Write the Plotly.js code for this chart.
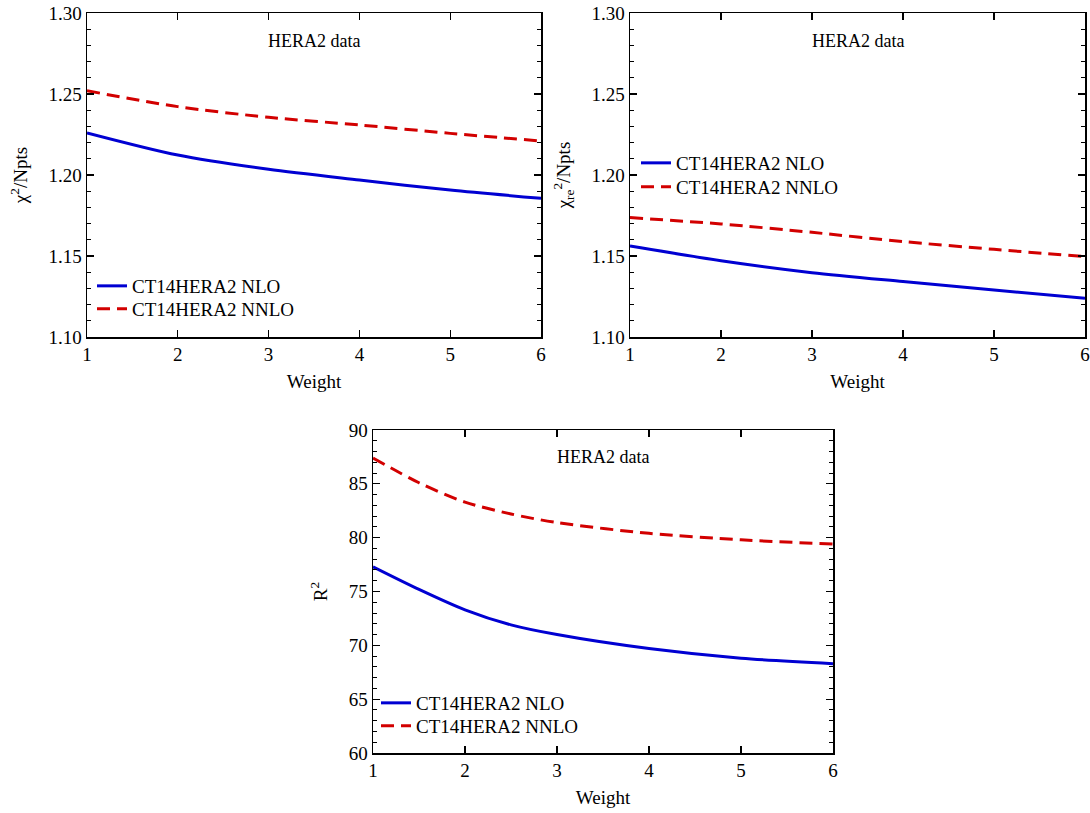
<!DOCTYPE html>
<html>
<head>
<meta charset="utf-8">
<script src="https://cdn.plot.ly/plotly-3.0.1.min.js"></script>
<style>html,body{margin:0;padding:0;background:#fff;}#chart{width:1090px;height:813px;}</style>
</head>
<body>
<div id="chart"></div>
<script>
// Weights
const weights = [1, 2, 3, 4, 5, 6];
const weightsFine = [1, 1.5, 2, 2.5, 3, 4, 5, 6];

// Panel 1: chi^2/Npts
const chi2NLO  = [1.226, 1.2123, 1.2035, 1.1969, 1.1907, 1.1856];
const chi2NNLO = [1.252, 1.2422, 1.2356, 1.2309, 1.2257, 1.2210];

// Panel 2: chi^2_re/Npts
const chi2reNLO  = [1.1562, 1.1471, 1.1397, 1.1342, 1.1290, 1.1239];
const chi2reNNLO = [1.1737, 1.1698, 1.1646, 1.1589, 1.1541, 1.1496];

// Panel 3: R^2
const r2NLO  = [77.3, 75.2, 73.3, 71.9, 71.0, 69.7, 68.8, 68.3];
const r2NNLO = [87.4, 85.1, 83.3, 82.2, 81.4, 80.4, 79.8, 79.4];

const nameNLO = 'CT14HERA2 NLO';
const nameNNLO = 'CT14HERA2 NNLO';
const blue = 'rgb(0,0,210)';
const red = 'rgb(210,0,0)';
const FONT = '"Liberation Serif", "Times New Roman", Times, serif';

function lineNLO(x, y, xa, ya, lg) {
  return {x: x, y: y, xaxis: xa, yaxis: ya, type: 'scatter', mode: 'lines', name: nameNLO,
    legend: lg, line: {color: blue, width: 3, shape: 'spline', smoothing: 0.8}};
}
function lineNNLO(x, y, xa, ya, lg) {
  return {x: x, y: y, xaxis: xa, yaxis: ya, type: 'scatter', mode: 'lines', name: nameNNLO,
    legend: lg, line: {color: red, width: 3, dash: '13px,7px', shape: 'spline', smoothing: 0.8}};
}

const data = [
  lineNLO(weights, chi2NLO, 'x', 'y', 'legend'),
  lineNNLO(weights, chi2NNLO, 'x', 'y', 'legend2'),
  lineNLO(weights, chi2reNLO, 'x2', 'y2', 'legend3'),
  lineNNLO(weights, chi2reNNLO, 'x2', 'y2', 'legend4'),
  lineNLO(weightsFine, r2NLO, 'x3', 'y3', 'legend5'),
  lineNNLO(weightsFine, r2NNLO, 'x3', 'y3', 'legend6')
];

function xAxis(domain, anchor) {
  return {domain: domain, anchor: anchor, range: [1, 6], dtick: 1, tick0: 1,
    ticks: 'inside', ticklen: 7, tickwidth: 1.2, tickcolor: '#000',
    showline: true, linecolor: '#000', linewidth: 1.5, mirror: 'ticks',
    showgrid: false, zeroline: false,
    tickfont: {family: FONT, size: 19, color: '#000'},
    title: {text: 'Weight', font: {family: FONT, size: 19, color: '#000'}, standoff: 10}};
}
function yAxis(domain, anchor, range, dtick, minor, fmt, title) {
  return {domain: domain, anchor: anchor, range: range, dtick: dtick, tick0: range[0],
    tickformat: fmt,
    ticks: 'inside', ticklen: 7, tickwidth: 1.2, tickcolor: '#000',
    minor: {ticks: 'inside', dtick: minor, ticklen: 4, tickwidth: 1, tickcolor: '#000'},
    showline: true, linecolor: '#000', linewidth: 1.5, mirror: 'ticks',
    showgrid: false, zeroline: false,
    tickfont: {family: FONT, size: 19, color: '#000'},
    title: {text: title, font: {family: FONT, size: 19, color: '#000'}, standoff: 16}};
}

const yTop = [1 - 337 / 813, 1 - 13 / 813];
const yBot = [1 - 753 / 813, 1 - 430 / 813];

function legendAt(px, py) {
  return {x: px / 1090, y: 1 - py / 813, xref: 'paper', yref: 'paper',
    xanchor: 'left', yanchor: 'middle',
    bgcolor: 'rgba(0,0,0,0)', borderwidth: 0, itemwidth: 30,
    font: {family: FONT, size: 19, color: '#000'}};
}

function note(xa, ya, x, y) {
  return {text: 'HERA2 data', xref: xa + ' domain', yref: ya + ' domain', x: x, y: y,
    showarrow: false, xanchor: 'center', yanchor: 'middle',
    font: {family: FONT, size: 18, color: '#000'}};
}

const layout = {
  width: 1090, height: 813,
  margin: {l: 0, r: 0, t: 0, b: 0},
  paper_bgcolor: '#fff', plot_bgcolor: '#fff',
  showlegend: true,
  font: {family: FONT, color: '#000'},
  xaxis: xAxis([87 / 1090, 541 / 1090], 'y'),
  yaxis: yAxis(yTop, 'x', [1.10, 1.30], 0.05, 0.01, '.2f', 'χ<sup>2</sup>/Npts'),
  xaxis2: xAxis([630 / 1090, 1085 / 1090], 'y2'),
  yaxis2: yAxis(yTop, 'x2', [1.10, 1.30], 0.05, 0.01, '.2f', 'χ<sub>re</sub><sup>2</sup>/Npts'),
  xaxis3: xAxis([373 / 1090, 833 / 1090], 'y3'),
  yaxis3: yAxis(yBot, 'x3', [60, 90], 5, 1, 'd', 'R<sup>2</sup>'),
  legend: legendAt(92, 286),
  legend2: legendAt(92, 309),
  legend3: legendAt(636, 163),
  legend4: legendAt(636, 187),
  legend5: legendAt(376, 703),
  legend6: legendAt(376, 726),
  annotations: [
    note('x', 'y', 0.5, 0.914),
    note('x2', 'y2', 0.5, 0.914),
    note('x3', 'y3', 0.5, 0.916)
  ]
};

Plotly.newPlot('chart', data, layout, {displayModeBar: false, staticPlot: true});
</script>
</body>
</html>
